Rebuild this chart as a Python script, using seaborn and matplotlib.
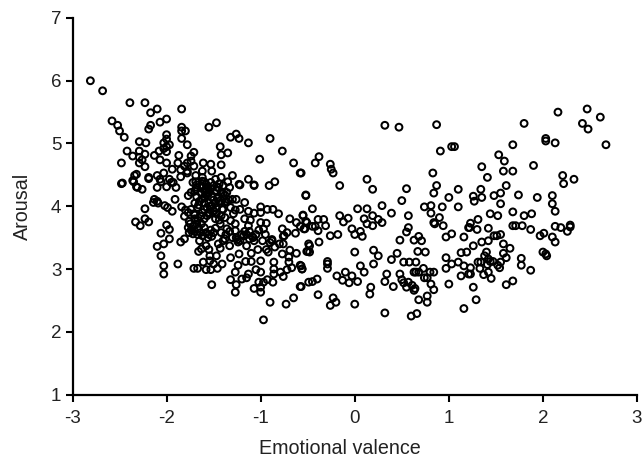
import matplotlib
matplotlib.use("Agg")
import matplotlib.pyplot as plt
import pandas as pd
import seaborn as sns

# values
valence = [
    -2.81, -2.68, -2.39, -2.23, -2.10, -2.17, -1.84, -2.58, -2.52, -2.50, -2.45, -2.17, -2.19, -2.07, -2.00,
    -1.84, -1.84, -1.80, -1.84, -1.55, -1.47, -1.32, -1.26, -1.23, -1.13, -2.00, -2.00, -2.03, -1.97, -2.00,
    -2.03, -2.00, -2.29, -2.22, -1.78, -1.43, -2.42, -2.29, -2.23, -2.36, -2.29, -2.13, -2.08, -2.07, -2.00,
    -1.87, -1.71, -1.74, -1.35, -1.42, -2.48, -2.29, -2.26, -2.23, -1.88, -1.74, -1.78, -1.81, -1.71, -1.94,
    -1.61, -1.53, -1.42, -1.01, -1.85, -1.78, -1.62, -1.52, -2.03, -2.10, -2.32, -2.34, -2.19, -2.19, -2.07,
    -1.97, -1.93, -1.85, -1.78, -1.69, -1.62, -1.30, -1.42, -1.48, -1.35, -1.13, -1.07, -1.23, -2.48, -2.47,
    -2.36, -2.32, -2.26, -2.10, -2.00, -1.90, -1.69, -1.68, -1.60, -1.53, -1.56, -1.46, -1.33,
    -2.35, -2.31, -2.06, -1.95, -1.77, -1.74, -1.69, -1.91, -2.13, -2.14, -2.10, -2.09, -2.02, -1.99, -1.94,
    -2.23, -1.84, -1.80, -1.81, -1.77, -1.71, -2.33, -2.23, -2.28, -2.19, -2.00, -1.97, -2.06, -1.97, -2.03,
    -2.10, -1.81, -1.85, -2.06, -2.03, -2.03, -1.88, -1.71, -1.67, -1.52, -1.58, -1.53, -1.61, -1.54, -1.46,
    -1.41, -1.50, -1.47, -1.54, -1.66, -1.63, -1.55, -1.58, -1.65, -1.45, -1.43, -1.38, -1.33, -1.32, -1.23,
    -1.15, -1.10, -1.16, -1.10, -1.24, -1.27, -1.32, -1.26, -1.27, -1.20, -1.15, -1.13, -1.05, -1.00, -1.00,
    -0.94, -1.03, -0.98, -1.07, -0.88, -0.86, -0.86, -0.86, -0.79, -0.76, -0.72, -0.67, -0.58, -0.56, -0.49,
    -0.58, -0.87, -0.93, -0.97, -1.02, -1.00, -1.07, -1.00, -0.90, -0.73, -0.65, -0.97, -0.92, -0.77, -0.70,
    -0.70, -0.69, -0.62, -0.51, -0.49, -0.76, -0.76, -0.77, -0.69, -0.55, -0.52, -0.62, -0.53, -0.51, -0.63,
    -0.72, -0.81, -0.87, -0.93, -1.00, -1.00, -1.07, -1.13, -1.17, -1.26, -1.30, -1.22, -1.07, -0.91, -0.85,
    -1.17, -1.11, -1.00, -0.94, -0.97, -1.13, -1.18, -1.08, -1.27, -1.22, -1.29, -1.32, -1.27, -1.27, -1.36,
    -1.43, -1.47, -1.41, -1.50, -1.38, -1.47, -1.58,
    -1.62, -1.60, -1.58, -1.55, -1.52, -1.50, -1.62, -1.65, -1.60, -1.55, -1.57, -1.52, -1.60, -1.62, -1.55,
    -1.50, -1.45, -1.42, -1.40, -1.45, -1.68, -1.70, -1.67, -1.63, -1.58, -1.53, -1.48, -1.47, -1.57, -1.60,
    -1.75, -1.72, -1.68, -1.74, -1.70, -1.66, -1.67, -1.58, -1.55, -1.52, -1.56, -1.50, -1.53, -1.48,
    -1.25, -1.24, -1.22, -1.26, -0.88, -0.90, -0.75, -1.42, -1.37, -1.33, -1.30, -1.40,
    -1.70, -1.67, -1.63, -1.12, -1.05, -1.02, -1.15, -0.95, -0.85, -0.80,
    0.32, 0.47, 0.87, 0.91, 1.03, 1.06, -0.38, -0.42, -0.26, -0.25, -0.23, -0.57, 0.13, 0.19, -0.16,
    0.83, 0.87, 0.84, 0.55, 0.50, 1.10, 1.00, -0.52, -0.45, 0.03, 0.13, 0.29, 0.39, 0.19, 0.10,
    0.13, 0.19, 0.25, 0.29, -0.16, -0.12, -0.07, -0.03, 0.00, 0.06, 0.08, -0.18, -0.26, -0.55, -0.52,
    -0.58, -0.54, -0.45, -0.42, -0.39, -0.39, -0.33, -0.31, -0.38, -0.48, -0.50, -0.48, 0.00, 0.20, 0.25,
    0.20, 0.06, 0.10, -0.29, -0.29, -0.29, -0.57, -0.56, -0.19, -0.10, -0.03, -0.13, -0.06, 0.03, -0.40,
    -0.45, -0.57, -0.39, -0.23, -0.20, -0.26, 0.00, 0.17, 0.16, 0.32, 0.60, 0.66, 1.16, 0.68, 0.77,
    0.77, 0.84, 0.81, 1.00, 1.13, 1.21, 0.34, 0.32, 0.41, 0.48, 0.50, 0.52, 0.55, 0.57, 0.61,
    0.64, 0.63, 0.39, 0.45, 0.52, 0.58, 0.65, 0.67, 0.75, 0.63, 0.65, 0.68, 0.73, 0.74, 0.77,
    0.80, 0.84, 0.97, 0.97, 1.03, 1.10, 1.16, 1.13, 1.19, 0.48, 0.63, 0.68, 0.71, 0.55, 0.57,
    0.57, 0.74, 0.81, 0.81, 0.93, 1.10, 0.90, 0.84, 0.85, 0.94, 0.97, 1.03, 1.16, 1.21, 1.23,
    2.16, 2.47, 2.61, 2.42, 2.48, 2.67, 1.80, 2.03, 2.03, 2.13, 1.68, 1.53, 1.59, 1.35, 1.90,
    1.58, 1.68, 1.41, 2.21, 2.22, 2.33, 1.61, 1.34, 1.26, 1.27, 1.35, 1.48, 1.55, 1.74, 1.94,
    2.10, 2.10, 2.13, 1.55, 1.68, 1.44, 1.52, 1.80, 1.88, 1.31, 1.22, 1.30, 1.42, 1.68, 1.71,
    1.78, 1.87, 2.13, 2.19, 2.29, 2.29, 2.26, 2.01, 1.97, 2.10, 2.13, 1.55, 1.51, 1.48, 1.42,
    1.35, 1.26, 1.58, 1.65, 1.58, 1.61, 1.40, 1.38, 2.00, 2.03, 2.04, 1.77, 1.77, 1.87, 1.31,
    1.34, 1.42, 1.44, 1.47, 1.41, 1.55, 1.52, 1.54, 1.23, 1.23, 1.33, 1.42, 1.37, 1.45, 1.68,
    1.61, 1.26, 1.29,
    # upper middle gap
    -0.90, -0.77, -0.65, -0.58,
    # dark core
    -1.72, -1.68, -1.62, -1.58, -1.50, -1.44, -1.40, -1.36, -1.70, -1.60, -1.56, -1.46, -1.42, -1.38, -1.34,
    -1.74, -1.66, -1.54, -1.44, -1.40, -1.36, -1.32, -1.70, -1.64, -1.54, -1.48, -1.42, -1.38, -1.76, -1.44,
    -1.76, -1.72, -1.64, -1.62, -1.77, -1.60, -1.20, -1.17, -1.12, -1.09,
]
arousal = [
    6.00, 5.84, 5.65, 5.65, 5.55, 5.49, 5.55, 5.36, 5.29, 5.20, 5.10, 5.29, 5.23, 5.34, 5.39,
    5.26, 5.20, 5.20, 5.08, 5.26, 5.33, 5.10, 5.15, 5.08, 5.01, 5.14, 5.07, 5.01, 4.98, 4.95,
    4.92, 4.87, 5.03, 5.01, 4.98, 4.95, 4.88, 4.88, 4.83, 4.80, 4.78, 4.81, 4.88, 4.74, 4.69,
    4.81, 4.86, 4.80, 4.85, 4.82, 4.69, 4.69, 4.74, 4.63, 4.69, 4.72, 4.69, 4.64, 4.64, 4.59,
    4.69, 4.67, 4.66, 4.75, 4.58, 4.56, 4.56, 4.56, 4.53, 4.49, 4.51, 4.49, 4.46, 4.44, 4.43,
    4.43, 4.38, 4.47, 4.53, 4.49, 4.46, 4.49, 4.46, 4.43, 4.39, 4.43, 4.34, 4.35, 4.36, 4.37,
    4.41, 4.31, 4.27, 4.30, 4.31, 4.30, 4.39, 4.30, 4.39, 4.38, 4.30, 4.30, 4.30,
    4.39, 4.30, 4.39, 4.38, 4.17, 4.22, 4.27, 4.11, 4.11, 4.06, 4.08, 4.05, 4.01, 3.98, 3.92,
    3.96, 3.99, 3.94, 3.84, 3.90, 3.88, 3.75, 3.80, 3.69, 3.75, 3.70, 3.63, 3.57, 3.48, 3.40,
    3.36, 3.48, 3.43, 3.21, 3.05, 2.92, 3.08, 3.01, 3.01, 2.75, 2.99, 2.99, 3.11, 3.13, 3.01,
    3.08, 3.08, 3.21, 3.21, 3.28, 3.32, 3.31, 3.37, 3.45, 3.40, 3.33, 3.48, 3.37, 3.18, 3.24,
    3.37, 3.25, 3.12, 3.12, 3.06, 2.95, 2.83, 2.75, 2.63, 2.84, 2.86, 2.92, 2.99, 2.95, 3.13,
    3.31, 3.31, 3.45, 3.45, 3.45, 3.11, 3.00, 2.92, 2.95, 2.88, 2.99, 3.02, 3.06, 3.00, 2.79,
    2.72, 2.79, 2.83, 2.79, 2.79, 2.71, 2.69, 2.63, 2.47, 2.44, 2.54, 2.19, 3.27, 3.24, 3.19,
    3.11, 3.30, 3.25, 3.28, 3.40, 3.40, 3.52, 3.64, 3.80, 3.86, 4.18, 3.74, 3.64, 3.74, 3.57,
    3.58, 3.88, 3.95, 3.95, 3.99, 3.90, 3.89, 3.92, 4.06, 4.11, 4.11, 4.34, 4.33, 4.33, 4.39,
    3.80, 3.78, 3.74, 3.73, 3.64, 3.69, 3.53, 3.50, 3.94, 3.95, 3.88, 3.77, 3.72, 3.61, 3.64,
    3.72, 3.88, 3.95, 3.93, 4.06, 4.25, 4.25,
    4.32, 4.25, 4.18, 4.22, 4.15, 4.10, 4.12, 4.08, 4.05, 4.05, 3.98, 4.00, 3.95, 3.90, 3.90,
    3.92, 4.15, 4.05, 4.20, 4.30, 4.15, 4.05, 3.98, 4.20, 4.28, 4.28, 4.05, 3.97, 3.85, 3.80,
    3.72, 3.68, 3.72, 3.62, 3.60, 3.65, 3.55, 3.58, 3.55, 3.52, 3.50, 3.58, 3.62, 3.65,
    3.47, 3.43, 3.45, 3.50, 3.47, 3.42, 3.53, 3.58, 3.55, 3.60, 3.50, 3.45,
    3.80, 3.78, 3.72, 3.60, 3.55, 3.62, 3.55, 3.55, 3.35, 3.40,
    5.29, 5.26, 5.30, 4.88, 4.95, 4.95, 4.79, 4.69, 4.67, 4.59, 4.53, 4.53, 4.43, 4.27, 4.33,
    4.53, 4.33, 4.21, 4.28, 4.09, 4.27, 4.14, 4.17, 3.96, 3.96, 3.96, 4.01, 3.89, 3.85, 3.80,
    3.72, 3.69, 3.79, 3.74, 3.85, 3.75, 3.81, 3.64, 3.55, 3.60, 3.52, 3.55, 3.53, 3.85, 3.76,
    3.68, 3.64, 3.68, 3.68, 3.61, 3.79, 3.79, 3.69, 3.43, 3.37, 3.28, 3.27, 3.27, 3.30, 3.21,
    3.08, 3.05, 2.95, 3.12, 3.08, 3.01, 3.05, 3.00, 2.89, 2.95, 2.89, 2.82, 2.78, 2.80, 2.84,
    2.80, 2.72, 2.59, 2.54, 2.47, 2.42, 2.44, 2.71, 2.60, 2.30, 2.25, 2.29, 2.37, 2.51, 2.47,
    2.57, 2.67, 2.76, 2.76, 2.89, 2.92, 2.92, 2.80, 2.72, 2.92, 2.83, 2.78, 2.71, 2.79, 2.74,
    2.69, 2.66, 3.15, 3.25, 3.11, 3.11, 3.11, 3.28, 3.27, 2.95, 2.95, 2.95, 3.01, 2.86, 2.86,
    2.95, 2.95, 3.18, 3.01, 3.08, 3.11, 3.05, 3.26, 3.27, 3.46, 3.46, 3.52, 3.45, 3.59, 3.66,
    3.85, 3.99, 4.01, 3.89, 3.99, 3.99, 3.82, 3.74, 3.72, 3.69, 3.51, 3.56, 3.51, 3.66, 3.73,
    5.50, 5.55, 5.42, 5.32, 5.23, 4.98, 5.32, 5.08, 5.04, 5.01, 4.98, 4.82, 4.72, 4.63, 4.65,
    4.56, 4.56, 4.46, 4.49, 4.36, 4.43, 4.33, 4.27, 4.16, 4.08, 4.14, 4.17, 4.21, 4.18, 4.14,
    4.17, 4.04, 3.92, 4.04, 3.91, 3.88, 3.85, 3.85, 3.88, 3.79, 3.66, 3.63, 3.65, 3.69, 3.69,
    3.69, 3.63, 3.68, 3.66, 3.70, 3.67, 3.60, 3.57, 3.53, 3.51, 3.43, 3.55, 3.53, 3.53, 3.45,
    3.43, 3.37, 3.40, 3.33, 3.25, 3.18, 3.27, 3.21, 3.27, 3.24, 3.21, 3.17, 3.06, 2.98, 3.11,
    3.11, 3.16, 3.12, 3.12, 3.07, 3.11, 3.06, 3.02, 3.02, 2.92, 3.01, 2.95, 2.91, 2.85, 2.81,
    2.75, 2.71, 2.51,
    # upper middle gap
    5.08, 4.88, 4.69, 4.53,
    # dark core
    4.38, 4.34, 4.40, 4.35, 4.33, 4.36, 4.33, 4.22, 4.24, 4.14, 4.20, 4.12, 4.22, 4.18, 4.10,
    3.95, 4.02, 4.00, 4.08, 3.95, 4.07, 3.98, 3.86, 3.84, 3.88, 3.80, 3.85, 3.82, 3.76, 3.78,
    3.58, 3.56, 3.58, 3.53, 3.66, 3.66, 3.55, 3.60, 3.48, 3.52,
]
x_ticks = [-3, -2, -1, 0, 1, 2, 3]
y_ticks = [1, 2, 3, 4, 5, 6, 7]

n = min(len(valence), len(arousal))
df = pd.DataFrame({"valence": valence[:n], "arousal": arousal[:n]})

sns.set_theme(style="ticks")
plt.rcParams["font.family"] = ["Liberation Sans", "DejaVu Sans"]
plt.rcParams["axes.unicode_minus"] = False

fig = plt.figure(figsize=(6.43, 4.61), dpi=100)
ax = fig.add_axes([72.5 / 643, 1 - 394.5 / 461, (637 - 72.5) / 643, (394.5 - 18) / 461])

sns.scatterplot(data=df, x="valence", y="arousal", ax=ax, marker="o", s=24,
                facecolor="none", edgecolor="black", linewidth=1.45, clip_on=False)

ax.set_xlim(-3, 3)
ax.set_ylim(1, 7)
ax.set_xticks(x_ticks)
ax.set_yticks(y_ticks)
ax.tick_params(width=1.5, length=5, labelsize=13.5, color="black", labelcolor="#222222")
ax.tick_params(axis="x", pad=6)
ax.tick_params(axis="y", pad=3)
ax.set_xlabel("Emotional valence", fontsize=14.2, color="#222222")
ax.set_ylabel("Arousal", fontsize=14.2, color="#222222")
ax.xaxis.set_label_coords(0.474, -0.119)
ax.yaxis.set_label_coords(-0.072, 0.5)
for side in ["left", "bottom"]:
    ax.spines[side].set_linewidth(1.6)
    ax.spines[side].set_color("black")
sns.despine(ax=ax)

fig.savefig("out.png", dpi=100)
